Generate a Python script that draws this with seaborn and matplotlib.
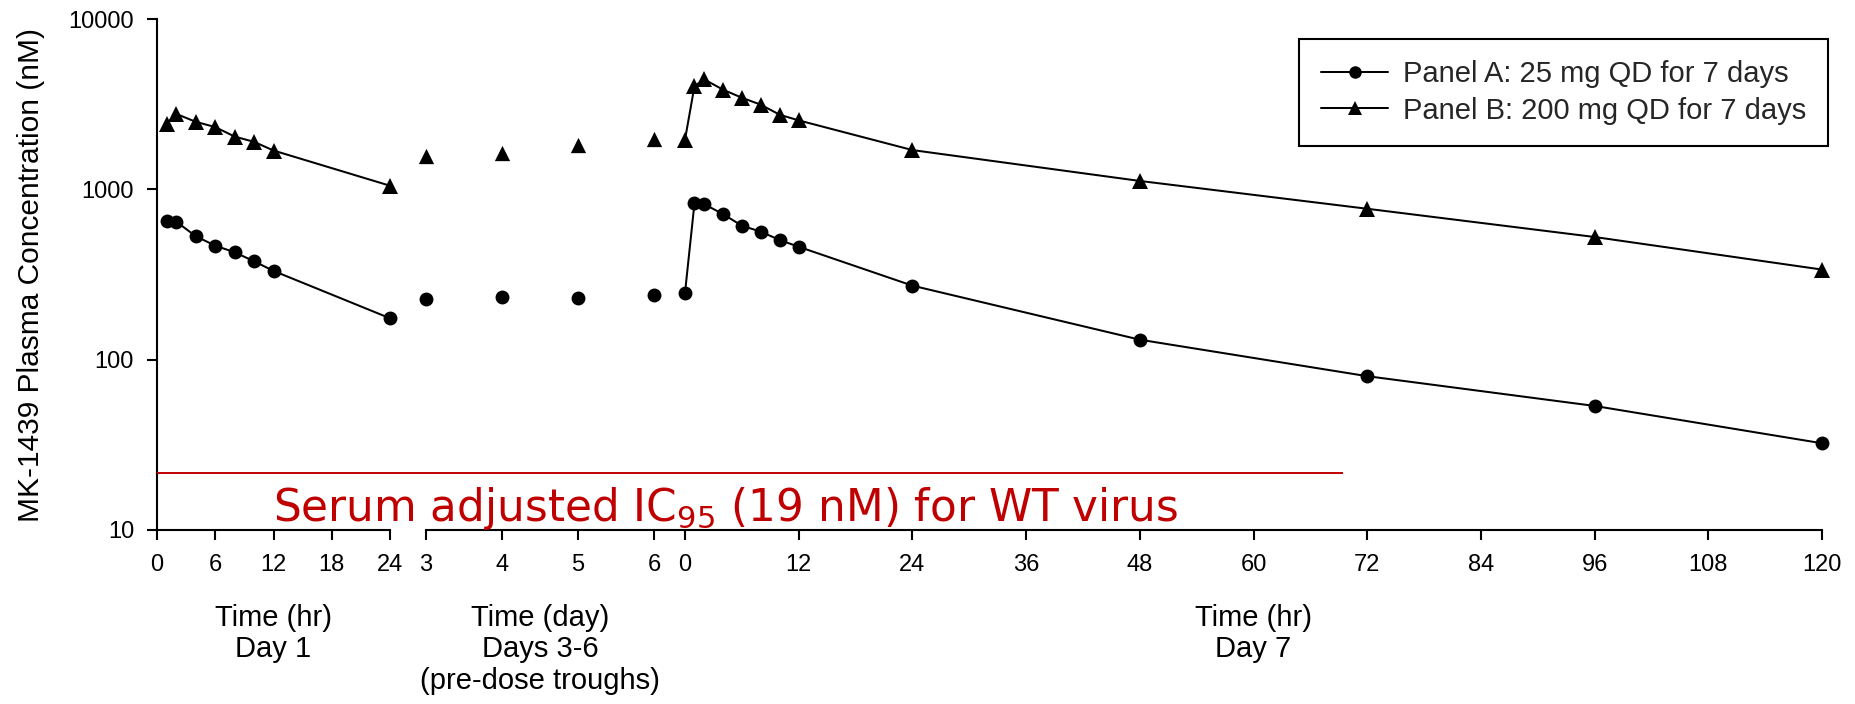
import matplotlib
matplotlib.use("Agg")
import matplotlib.pyplot as plt
from matplotlib.lines import Line2D
from matplotlib.ticker import NullLocator, FixedLocator, FixedFormatter
import seaborn as sns

# ---------------- data ----------------
day1_hr = [1, 2, 4, 6, 8, 10, 12, 24]
panelA_day1 = [652, 645, 530, 467, 427, 378, 332, 175]
panelB_day1 = [2430, 2770, 2490, 2320, 2040, 1900, 1690, 1050]

trough_day = [3, 4, 5, 6]
panelA_trough = [227, 233, 231, 239]
panelB_trough = [1560, 1640, 1830, 1970]

day7_hr = [0, 1, 2, 4, 6, 8, 10, 12, 24, 48, 72, 96, 120]
panelA_day7 = [247, 828, 820, 716, 612, 564, 504, 460, 272, 131, 80, 53.5, 32.3]
panelB_day7 = [1960, 4030, 4430, 3850, 3450, 3140, 2740, 2540, 1700, 1120, 769, 525, 338]

ic95_line = 21.7

yticks = [10, 100, 1000, 10000]
ytick_labels = ["10", "100", "1000", "10000"]
day1_ticks = [0, 6, 12, 18, 24]
trough_ticks = [3, 4, 5, 6]
day7_ticks = [0, 12, 24, 36, 48, 60, 72, 84, 96, 108, 120]

series_labels = ["Panel A: 25 mg QD for 7 days", "Panel B: 200 mg QD for 7 days"]
xlabels = ["Time (hr)\nDay 1", "Time (day)\nDays 3-6\n(pre-dose troughs)", "Time (hr)\nDay 7"]
ylabel = "MK-1439 Plasma Concentration (nM)"
ic95_text = r"Serum adjusted IC$_{95}$ (19 nM) for WT virus"

# ---------------- style ----------------
sns.set_theme(style="ticks")
plt.rcParams["font.family"] = ["Liberation Sans", "DejaVu Sans"]
plt.rcParams["axes.linewidth"] = 1.5

W, H = 1856, 704
fig = plt.figure(figsize=(W / 100, H / 100), dpi=100)
fig.patch.set_facecolor("white")

AX_T, AX_B = 19, 530


def rect(x0, x1):
    return [x0 / W, 1 - AX_B / H, (x1 - x0) / W, (AX_B - AX_T) / H]


ax1 = fig.add_axes(rect(157, 390))
ax2 = fig.add_axes(rect(426, 654))
ax3 = fig.add_axes(rect(654, 1822))
# day-7 axis: 0 h sits at px 685, 120 h at px 1822
d7_left = -(685 - 654) / (1822 - 685) * 120

RED = "#C00000"
LW = 1.45
MS_O = 10
MS_T = 11
TICK_FS = 17

for ax in (ax1, ax2, ax3):
    ax.set_facecolor("none")
    ax.set_yscale("log")
    ax.set_ylim(10, 10000)
    ax.yaxis.set_minor_locator(NullLocator())
    ax.xaxis.set_minor_locator(NullLocator())
    for s in ("top", "right"):
        ax.spines[s].set_visible(False)
    ax.spines["bottom"].set_color("black")
    ax.spines["left"].set_color("black")
    ax.tick_params(axis="x", direction="out", length=7, width=1.5,
                   labelsize=TICK_FS, pad=10.5, colors="black")
    ax.grid(False)

ax1.tick_params(axis="y", direction="out", length=7.5, width=1.5,
                labelsize=TICK_FS, pad=9, colors="black")
ax1.yaxis.set_major_locator(FixedLocator(yticks))
ax1.yaxis.set_major_formatter(FixedFormatter(ytick_labels))
for ax in (ax2, ax3):
    ax.spines["left"].set_visible(False)
    ax.tick_params(axis="y", left=False, labelleft=False)

ax1.set_xlim(0, 24)
ax2.set_xlim(3, 6)
ax3.set_xlim(d7_left, 120)
ax1.set_xticks(day1_ticks)
ax2.set_xticks(trough_ticks)
ax3.set_xticks(day7_ticks)

# ---------------- data marks ----------------
line_kw = dict(color="black", linewidth=LW, markeredgewidth=0, clip_on=False, zorder=3)
sns.lineplot(x=day1_hr, y=panelA_day1, ax=ax1, marker="o", markersize=MS_O, **line_kw)
sns.lineplot(x=day1_hr, y=panelB_day1, ax=ax1, marker="^", markersize=MS_T, **line_kw)
sns.lineplot(x=day7_hr, y=panelA_day7, ax=ax3, marker="o", markersize=MS_O, **line_kw)
sns.lineplot(x=day7_hr, y=panelB_day7, ax=ax3, marker="^", markersize=MS_T, **line_kw)

sc_kw = dict(color="black", linewidth=0, clip_on=False, zorder=3)
sns.scatterplot(x=trough_day, y=panelA_trough, ax=ax2, marker="o", s=MS_O ** 2, **sc_kw)
sns.scatterplot(x=trough_day, y=panelB_trough, ax=ax2, marker="^", s=MS_T ** 2, **sc_kw)

for ax in (ax1, ax2, ax3):
    if ax.get_legend() is not None:
        ax.get_legend().remove()

# ---------------- IC95 reference line ----------------
axo = fig.add_axes(rect(157, 1822), zorder=5)
axo.set_facecolor("none")
axo.set_yscale("log")
axo.set_ylim(10, 10000)
axo.set_xlim(0, 1)
axo.axis("off")
axo.hlines(ic95_line, 0, (1343 - 157) / (1822 - 157), color=RED, linewidth=1.4)

fig.text(273 / W, 1 - 521 / H, ic95_text, color=RED, fontsize=31.5,
         family="DejaVu Sans", ha="left", va="baseline")

# ---------------- labels ----------------
lab_y = (AX_B - 604) / (AX_B - AX_T)
for ax, lab, xc in ((ax1, xlabels[0], 0.5), (ax2, xlabels[1], 0.5),
                    (ax3, xlabels[2], (60 - d7_left) / (120 - d7_left))):
    ax.set_xlabel(lab, fontsize=21, linespacing=1.15, color="black")
    ax.xaxis.set_label_coords(xc, lab_y)

fig.text(31 / W, 1 - 275.5 / H, ylabel, rotation=90, fontsize=21.5,
         ha="center", va="center", color="black")

# ---------------- legend ----------------
handles = [
    Line2D([], [], color="black", linewidth=LW, marker="o", markersize=MS_O * 0.9, markeredgewidth=0),
    Line2D([], [], color="black", linewidth=LW, marker="^", markersize=MS_T * 0.95, markeredgewidth=0),
]
leg = fig.legend(handles, series_labels, loc="upper right",
                 bbox_to_anchor=(1828 / W, 1 - 38.5 / H), borderaxespad=0,
                 frameon=True, fancybox=False, edgecolor="black", framealpha=1,
                 fontsize=21, handlelength=2.3, handletextpad=0.5,
                 borderpad=0.75, labelspacing=0.28)
leg.get_frame().set_linewidth(1.5)

fig.savefig("out.png", dpi=100, facecolor="white")
